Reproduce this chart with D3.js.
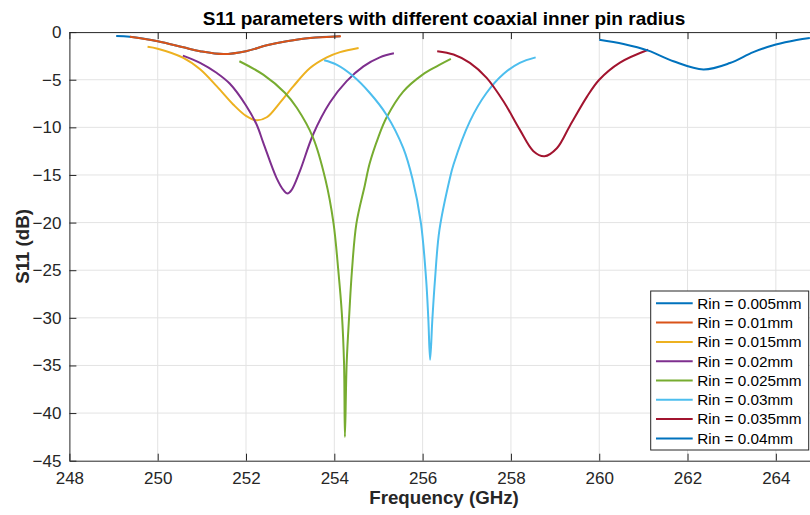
<!DOCTYPE html>
<html>
<head>
<meta charset="utf-8">
<script src="https://cdn.jsdelivr.net/npm/d3@7"></script>
<style>
  body { margin: 0; background: #fff; }
  svg { display: block; font-family: "Liberation Sans", Arial, Helvetica, sans-serif; }
</style>
</head>
<body>
<svg id="chart" width="810" height="515"></svg>
<script>
// S11 curves, frequency in GHz, S11 in dB
var rinLabels = ["Rin = 0.005mm", "Rin = 0.01mm", "Rin = 0.015mm", "Rin = 0.02mm",
                 "Rin = 0.025mm", "Rin = 0.03mm", "Rin = 0.035mm", "Rin = 0.04mm"];

var f005 = [249.06, 249.37, 250.0, 250.58, 250.96, 251.49, 252.0, 252.47, 252.92, 253.45, 254.13];
var s005 = [-0.41, -0.5, -0.97, -1.6, -2.0, -2.3, -2.0, -1.39, -0.97, -0.62, -0.44];

var f010 = [249.37, 250.0, 250.58, 250.96, 251.49, 252.0, 252.47, 252.92, 253.45, 254.15];
var s010 = [-0.5, -0.97, -1.6, -2.0, -2.3, -2.0, -1.39, -0.97, -0.62, -0.43];

var f015 = [249.77, 250.0, 250.58, 250.96, 251.34, 251.71, 252.0, 252.23, 252.47, 252.77, 253.07, 253.45, 253.83, 254.13, 254.55];
var s015 = [-1.54, -1.74, -2.7, -3.9, -5.7, -7.6, -8.8, -9.26, -8.94, -7.4, -5.7, -3.77, -2.65, -2.1, -1.67];

var f020 = [250.57, 250.96, 251.34, 251.63, 252.0, 252.24, 252.39, 252.69, 252.85, 252.94, 253.03, 253.22, 253.52, 253.9, 254.28, 254.66, 255.03, 255.35];
var s020 = [-2.47, -3.23, -4.3, -5.4, -7.7, -9.7, -11.6, -15.3, -16.6, -16.95, -16.6, -14.6, -10.75, -7.4, -5.15, -3.6, -2.65, -2.23];

var f025 = [251.85, 252.39, 252.88, 253.15, 253.52, 253.8, 253.98, 254.09, 254.17, 254.22, 254.24, 254.28, 254.34, 254.4, 254.5, 254.69, 254.8, 255.0, 255.18, 255.56, 256.0, 256.32, 256.64];
var s025 = [-3.06, -4.47, -6.37, -7.95, -11.1, -15.5, -20.0, -25.0, -29.5, -34.75, -42.5, -34.75, -29.5, -25.0, -20.1, -16.1, -13.8, -11.0, -9.0, -6.25, -4.47, -3.6, -2.82];

var f030 = [253.77, 254.05, 254.43, 254.8, 255.18, 255.56, 255.77, 255.96, 256.08, 256.13, 256.17, 256.22, 256.28, 256.38, 256.62, 256.7, 257.07, 257.45, 257.83, 258.2, 258.56];
var s030 = [-2.96, -3.42, -4.64, -6.37, -8.67, -12.16, -15.4, -20.0, -26.0, -30.2, -34.4, -30.2, -26.0, -20.8, -15.3, -13.9, -9.37, -6.37, -4.4, -3.23, -2.65];

var f035 = [256.33, 256.7, 257.07, 257.45, 257.83, 258.2, 258.51, 258.76, 259.04, 259.34, 259.72, 260.0, 260.47, 261.11];
var s035 = [-2.0, -2.35, -3.23, -4.8, -7.26, -10.24, -12.5, -13.04, -12.2, -9.8, -6.8, -5.0, -3.2, -1.85];

var f040 = [260.0, 260.55, 261.11, 261.68, 262.36, 262.96, 263.49, 264.0, 264.47, 264.77];
var s040 = [-0.8, -1.25, -1.95, -3.06, -3.92, -3.25, -2.1, -1.3, -0.82, -0.62];

var xTicks = [248, 250, 252, 254, 256, 258, 260, 262, 264];
var yTicks = [0, -5, -10, -15, -20, -25, -30, -35, -40, -45];

var colors = ["#0072BD", "#D95319", "#EDB120", "#7E2F8E", "#77AC30", "#4DBEEE", "#A2142F", "#0072BD"];

var allF = [f005, f010, f015, f020, f025, f030, f035, f040];
var allS = [s005, s010, s015, s020, s025, s030, s035, s040];
var series = allF.map(function (fs, i) {
  return fs.map(function (f, j) { return [f, allS[i][j]]; });
});

var svg = d3.select("#chart");
var plotL = 69.4, plotR = 820, plotT = 32.1, plotB = 460.7;

var x = d3.scaleLinear().domain([248, 265]).range([plotL, plotR]);
var y = d3.scaleLinear().domain([-45, 0]).range([plotB, plotT]);

var axisColor = "#262626";

// grid
svg.append("g").selectAll("line").data(xTicks.slice(1)).enter().append("line")
  .attr("x1", function (d) { return x(d); }).attr("x2", function (d) { return x(d); })
  .attr("y1", plotT).attr("y2", plotB)
  .attr("stroke", "#e3e3e3").attr("stroke-width", 1);
svg.append("g").selectAll("line").data(yTicks.slice(1, -1)).enter().append("line")
  .attr("y1", function (d) { return y(d); }).attr("y2", function (d) { return y(d); })
  .attr("x1", plotL).attr("x2", plotR)
  .attr("stroke", "#e3e3e3").attr("stroke-width", 1);

// curves
svg.append("defs").append("clipPath").attr("id", "plotclip")
  .append("rect").attr("x", plotL).attr("y", plotT).attr("width", plotR - plotL).attr("height", plotB - plotT);

var line = d3.line()
  .x(function (d) { return x(d[0]); })
  .y(function (d) { return y(d[1]); })
  .curve(d3.curveCatmullRom.alpha(0.5));

svg.append("g").attr("clip-path", "url(#plotclip)")
  .selectAll("path").data(series).enter().append("path")
  .attr("d", line)
  .attr("fill", "none")
  .attr("stroke", function (d, i) { return colors[i]; })
  .attr("stroke-width", 2);

// axes (MATLAB style, ticks inside)
var xAxis = d3.axisBottom(x).tickValues(xTicks).tickSizeInner(-7).tickSizeOuter(0).tickPadding(11);
var yAxis = d3.axisLeft(y).tickValues(yTicks).tickSizeInner(-7).tickSizeOuter(0).tickPadding(8);
var xTop = d3.axisTop(x).tickValues(xTicks).tickSizeInner(-7).tickSizeOuter(0).tickFormat("");

function styleAxis(g) {
  g.selectAll("path").attr("stroke", axisColor);
  g.selectAll("line").attr("stroke", axisColor);
  g.selectAll("text").attr("fill", axisColor).style("font-size", "17px").attr("font-family", null);
}

svg.append("g").attr("transform", "translate(0," + plotB + ")").call(xAxis).call(styleAxis);
svg.append("g").attr("transform", "translate(" + plotL + ",0)").call(yAxis).call(styleAxis);
svg.append("g").attr("transform", "translate(0," + plotT + ")").call(xTop).call(styleAxis);

// titles
svg.append("text").attr("x", 444).attr("y", 25).attr("text-anchor", "middle")
  .style("font-size", "19px").style("font-weight", "bold").attr("fill", "#000")
  .text("S11 parameters with different coaxial inner pin radius");
svg.append("text").attr("x", 444).attr("y", 504).attr("text-anchor", "middle")
  .style("font-size", "18.7px").style("font-weight", "bold").attr("fill", axisColor)
  .text("Frequency (GHz)");
svg.append("text").attr("transform", "translate(29," + ((plotT + plotB) / 2) + ") rotate(-90)")
  .attr("text-anchor", "middle")
  .style("font-size", "18.7px").style("font-weight", "bold").attr("fill", axisColor)
  .text("S11 (dB)");

// legend
var lg = svg.append("g");
lg.append("rect").attr("x", 650.7).attr("y", 291).attr("width", 158).attr("height", 159)
  .attr("fill", "#fff").attr("stroke", axisColor).attr("stroke-width", 1);
var items = lg.selectAll("g.item").data(rinLabels).enter().append("g")
  .attr("transform", function (d, i) { return "translate(0," + (303.3 + i * 19.3) + ")"; });
items.append("line").attr("x1", 656).attr("x2", 692.7)
  .attr("stroke", function (d, i) { return colors[i]; }).attr("stroke-width", 2);
items.append("text").attr("x", 697.3).attr("dy", "0.35em")
  .style("font-size", "15.3px").attr("fill", "#000")
  .text(function (d) { return d; });
</script>
</body>
</html>
